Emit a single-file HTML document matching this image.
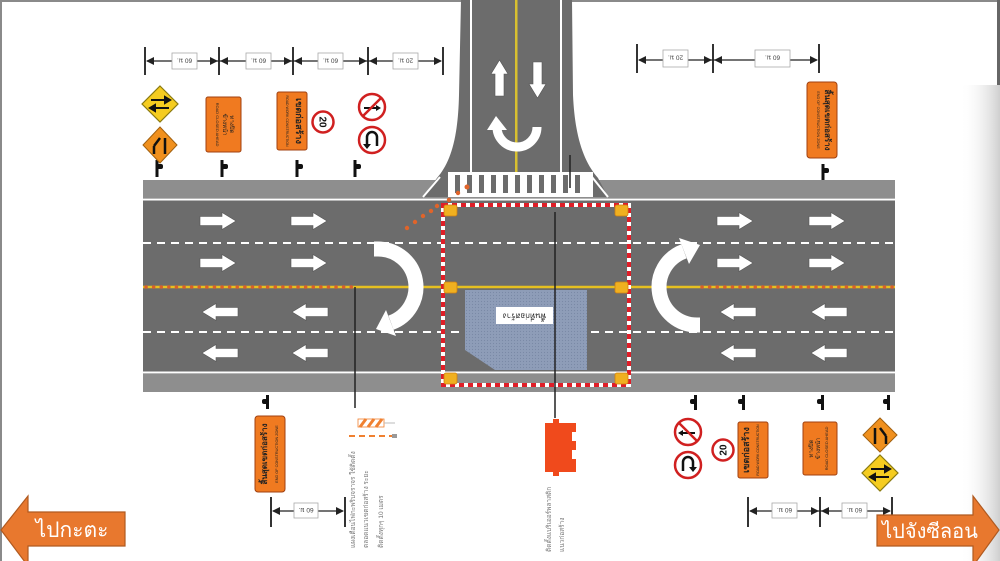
<!DOCTYPE html>
<html><head><meta charset="utf-8"><style>
html,body{margin:0;padding:0;background:#fff;}
svg{display:block;}
text{font-family:"Liberation Sans","DejaVu Sans","Noto Sans CJK SC",sans-serif;}
</style></head><body>
<svg width="1000" height="561" viewBox="0 0 1000 561" xmlns="http://www.w3.org/2000/svg">
<defs>
<path id="ra" d="M0,-4.5 H22 V-8.5 L36,0 L22,8.5 V4.5 H0 Z" fill="#fff" stroke="#555" stroke-width="0.6"/>
<linearGradient id="sh" x1="0" x2="1" y1="0" y2="0"><stop offset="0" stop-color="#fff" stop-opacity="0"/><stop offset="1" stop-color="#cfcfcf"/></linearGradient>
<pattern id="dots" width="3" height="3" patternUnits="userSpaceOnUse"><rect width="3" height="3" fill="#8e9db8"/><circle cx="1.5" cy="1.5" r="0.6" fill="#7a8aa6"/></pattern>
</defs>
<rect width="1000" height="561" fill="#fff"/>
<rect x="960" y="85" width="40" height="476" fill="url(#sh)"/>
<rect x="0" y="0" width="1000" height="2" fill="#8a8a8a"/>
<rect x="0" y="0" width="2" height="561" fill="#8a8a8a"/>
<rect x="997" y="0" width="3" height="85" fill="#666"/>

<!-- main road -->
<rect x="143" y="180" width="752" height="18" fill="#8e8e8e"/>
<rect x="143" y="198" width="752" height="176" fill="#6c6c6c"/>
<rect x="143" y="374" width="752" height="18" fill="#8e8e8e"/>
<rect x="143" y="198.5" width="752" height="2" fill="#fff"/>
<rect x="143" y="371.5" width="752" height="2" fill="#fff"/>
<line x1="143" y1="243" x2="895" y2="243" stroke="#fff" stroke-width="2" stroke-dasharray="8 6"/>
<line x1="143" y1="332" x2="895" y2="332" stroke="#fff" stroke-width="2" stroke-dasharray="8 6"/>
<line x1="143" y1="287" x2="895" y2="287" stroke="#e6c020" stroke-width="2.5"/>
<line x1="146" y1="287" x2="355" y2="287" stroke="#d9602a" stroke-width="3.5" stroke-linecap="round" stroke-dasharray="0.1 7.5"/>
<line x1="702" y1="287" x2="893" y2="287" stroke="#d9602a" stroke-width="3.5" stroke-linecap="round" stroke-dasharray="0.1 7.5"/>

<!-- vertical road -->
<path d="M461,0 L572,0 L573,95 C575,140 585,163 598,178 L608,197 L423,197 L437,178 C450,163 458,140 459,95 Z" fill="#6c6c6c"/>
<path d="M423,197 L440,177" stroke="#fff" stroke-width="2" fill="none"/>
<path d="M608,197 L592,177" stroke="#fff" stroke-width="2" fill="none"/>
<rect x="470" y="0" width="2" height="172" fill="#fff"/>
<rect x="560" y="0" width="2" height="172" fill="#fff"/>
<rect x="515" y="0" width="2.5" height="172" fill="#d8c030"/>
<rect x="448" y="172" width="145" height="25" fill="#fff"/>
<g fill="#6c6c6c">
<rect x="455" y="175" width="5" height="18"/><rect x="467" y="175" width="5" height="18"/><rect x="479" y="175" width="5" height="18"/><rect x="491" y="175" width="5" height="18"/><rect x="503" y="175" width="5" height="18"/><rect x="515" y="175" width="5" height="18"/><rect x="527" y="175" width="5" height="18"/><rect x="539" y="175" width="5" height="18"/><rect x="551" y="175" width="5" height="18"/><rect x="563" y="175" width="5" height="18"/><rect x="575" y="175" width="5" height="18"/>
</g>
<use href="#ra" transform="translate(499.5,96) rotate(-90)"/>
<use href="#ra" transform="translate(537.5,62) rotate(90)"/>
<path d="M537,127 A20,20 0 0 1 497,127" fill="none" stroke="#fff" stroke-width="9"/>
<path d="M487,130 L507,130 L496,116 Z" fill="#fff"/>
<line x1="570" y1="155" x2="570" y2="188" stroke="#222" stroke-width="1.5"/>

<!-- lane arrows -->
<use href="#ra" transform="translate(200,221)"/><use href="#ra" transform="translate(291,221)"/>
<use href="#ra" transform="translate(200,263)"/><use href="#ra" transform="translate(291,263)"/>
<use href="#ra" transform="translate(717,221)"/><use href="#ra" transform="translate(809,221)"/>
<use href="#ra" transform="translate(717,263)"/><use href="#ra" transform="translate(809,263)"/>
<use href="#ra" transform="translate(238,312) scale(-1,1)"/><use href="#ra" transform="translate(328,312) scale(-1,1)"/>
<use href="#ra" transform="translate(238,353) scale(-1,1)"/><use href="#ra" transform="translate(328,353) scale(-1,1)"/>
<use href="#ra" transform="translate(756,312) scale(-1,1)"/><use href="#ra" transform="translate(847,312) scale(-1,1)"/>
<use href="#ra" transform="translate(756,353) scale(-1,1)"/><use href="#ra" transform="translate(847,353) scale(-1,1)"/>

<!-- U-turns -->
<path d="M374,249 L378,249 A38,38 0 0 1 391,322.7" fill="none" stroke="#fff" stroke-width="15"/>
<path d="M376,329 L396,336 L386,310 Z" fill="#fff"/>
<path d="M700,325 L697,325 A38,38 0 0 1 684,251.3" fill="none" stroke="#fff" stroke-width="15"/>
<path d="M700,245 L679,238 L689,264 Z" fill="#fff"/>

<!-- work zone -->
<polygon points="465,290 587,290 587,370 495,370 465,350" fill="url(#dots)"/>
<rect x="496" y="307" width="57" height="17" fill="#fff"/>
<text x="524.5" y="315.5" font-size="8" fill="#222" text-anchor="middle" dominant-baseline="middle" transform="rotate(180 524.5 315.5)">พื้นที่ก่อสร้าง</text>
<rect x="443" y="205" width="186" height="180" fill="none" stroke="#fff" stroke-width="4"/>
<rect x="443" y="205" width="186" height="180" fill="none" stroke="#e01e28" stroke-width="4" stroke-dasharray="5 4"/>
<g fill="#f0b020" stroke="#d08010" stroke-width="0.8">
<rect x="444" y="205" width="13" height="11" rx="2"/><rect x="615" y="205" width="13" height="11" rx="2"/>
<rect x="444" y="282" width="13" height="11" rx="2"/><rect x="615" y="282" width="13" height="11" rx="2"/>
<rect x="444" y="373" width="13" height="11" rx="2"/><rect x="615" y="373" width="13" height="11" rx="2"/>
</g>
<g fill="#e0642a">
<circle cx="407" cy="228" r="2.2"/><circle cx="415" cy="222" r="2.2"/><circle cx="423" cy="216" r="2.2"/><circle cx="431" cy="211" r="2.2"/><circle cx="437" cy="206" r="2.2"/>
<circle cx="449" cy="200" r="2.2"/><circle cx="458" cy="193" r="2.2"/><circle cx="467" cy="187" r="2.5"/>
</g>
<line x1="355" y1="287" x2="355" y2="408" stroke="#222" stroke-width="1.5"/>
<line x1="555" y1="212" x2="555" y2="418" stroke="#222" stroke-width="1.5"/>

<!-- dimension lines top-left -->
<g stroke="#333" stroke-width="2">
<line x1="145" y1="47" x2="145" y2="75"/><line x1="219" y1="47" x2="219" y2="75"/><line x1="293" y1="47" x2="293" y2="75"/><line x1="368" y1="47" x2="368" y2="75"/><line x1="443" y1="47" x2="443" y2="75"/>
<line x1="637" y1="44" x2="637" y2="73"/><line x1="713" y1="44" x2="713" y2="73"/><line x1="819" y1="44" x2="819" y2="73"/>
<line x1="271" y1="497" x2="271" y2="527"/><line x1="345" y1="497" x2="345" y2="527"/>
<line x1="748" y1="497" x2="748" y2="527"/><line x1="820" y1="497" x2="820" y2="527"/><line x1="892" y1="497" x2="892" y2="527"/>
</g>
<g stroke="#222" stroke-width="1.3">
<line x1="147" y1="61" x2="441" y2="61"/><line x1="639" y1="60" x2="817" y2="60"/>
<line x1="273" y1="511" x2="343" y2="511"/><line x1="750" y1="511" x2="890" y2="511"/>
</g>
<g fill="#222">
<path d="M146,61 l8,-4 v8z"/><path d="M218,61 l-8,-4 v8z"/><path d="M220,61 l8,-4 v8z"/><path d="M292,61 l-8,-4 v8z"/><path d="M294,61 l8,-4 v8z"/><path d="M367,61 l-8,-4 v8z"/><path d="M369,61 l8,-4 v8z"/><path d="M442,61 l-8,-4 v8z"/>
<path d="M638,60 l8,-4 v8z"/><path d="M712,60 l-8,-4 v8z"/><path d="M714,60 l8,-4 v8z"/><path d="M818,60 l-8,-4 v8z"/>
<path d="M272,511 l8,-4 v8z"/><path d="M344,511 l-8,-4 v8z"/>
<path d="M749,511 l8,-4 v8z"/><path d="M819,511 l-8,-4 v8z"/><path d="M821,511 l8,-4 v8z"/><path d="M891,511 l-8,-4 v8z"/>
</g>
<g fill="#fff" stroke="#aaa" stroke-width="0.8">
<rect x="172" y="53" width="25" height="16"/><rect x="246" y="53" width="25" height="16"/><rect x="318" y="53" width="25" height="16"/><rect x="393" y="53" width="25" height="16"/>
<rect x="663" y="50" width="25" height="17"/><rect x="755" y="50" width="35" height="17"/>
<rect x="294" y="503" width="24" height="15"/><rect x="772" y="503" width="25" height="15"/><rect x="842" y="503" width="25" height="15"/>
</g>
<g font-size="6.5" fill="#444" text-anchor="middle">
<text x="184.5" y="63.5" transform="rotate(180 184.5 61)">60 ม.</text>
<text x="258.5" y="63.5" transform="rotate(180 258.5 61)">60 ม.</text>
<text x="330.5" y="63.5" transform="rotate(180 330.5 61)">60 ม.</text>
<text x="405.5" y="63.5" transform="rotate(180 405.5 61)">20 ม.</text>
<text x="675.5" y="60.5" transform="rotate(180 675.5 58)">20 ม.</text>
<text x="772.5" y="60.5" transform="rotate(180 772.5 58)">60 ม.</text>
<text x="306" y="513" transform="rotate(180 306 510.5)">60 ม.</text>
<text x="784.5" y="513" transform="rotate(180 784.5 510.5)">60 ม.</text>
<text x="854.5" y="513" transform="rotate(180 854.5 510.5)">60 ม.</text>
</g>

<!-- posts -->
<g fill="#111">
<rect x="155.5" y="160" width="3" height="17"/><rect x="157" y="164" width="6" height="5" rx="2"/>
<rect x="220.5" y="160" width="3" height="17"/><rect x="222" y="164" width="6" height="5" rx="2"/>
<rect x="295.5" y="160" width="3" height="17"/><rect x="297" y="164" width="6" height="5" rx="2"/>
<rect x="353.5" y="160" width="3" height="17"/><rect x="355" y="164" width="6" height="5" rx="2"/>
<rect x="821.5" y="164" width="3" height="16"/><rect x="823" y="168" width="6" height="5" rx="2"/>
<rect x="266" y="395" width="3" height="14"/><rect x="262" y="399" width="6" height="5" rx="2"/>
<rect x="694" y="395" width="3" height="15"/><rect x="690" y="399" width="6" height="5" rx="2"/>
<rect x="742" y="395" width="3" height="15"/><rect x="738" y="399" width="6" height="5" rx="2"/>
<rect x="821" y="395" width="3" height="15"/><rect x="817" y="399" width="6" height="5" rx="2"/>
<rect x="887" y="395" width="3" height="15"/><rect x="883" y="399" width="6" height="5" rx="2"/>
</g>

<!-- top-left signs -->
<polygon points="160,86 178,104 160,122 142,104" fill="#f5cc20" stroke="#8a7a10" stroke-width="1.2"/>
<g stroke="#111" stroke-width="2" fill="#111"><line x1="151" y1="100" x2="166" y2="100"/><path d="M170,100 l-5,-3 v6z"/><line x1="154" y1="108" x2="169" y2="108"/><path d="M150,108 l5,-3 v6z"/></g>
<polygon points="160,127 177,145 160,163 143,145" fill="#f0901e" stroke="#a06010" stroke-width="1"/>
<g stroke="#111" stroke-width="2.5"><line x1="154" y1="154" x2="154" y2="146"/><line x1="154" y1="146" x2="160" y2="138"/><line x1="165" y1="154" x2="165" y2="138"/></g>
<rect x="206" y="97" width="35" height="55" rx="2" fill="#f07a20" stroke="#a04010" stroke-width="1"/>
<g font-size="6" fill="#222" text-anchor="middle">
<text x="0" y="0" transform="translate(230,124.5) rotate(90)">ทางปิด</text>
<text x="0" y="0" transform="translate(223,124.5) rotate(90)">ข้างหน้า</text>
<text x="0" y="0" font-size="4" transform="translate(216,124.5) rotate(90)">ROAD CLOSED AHEAD</text>
</g>
<rect x="277" y="92" width="30" height="58" rx="2" fill="#f07a20" stroke="#a04010" stroke-width="1"/>
<text x="0" y="0" font-size="9" font-weight="bold" fill="#222" text-anchor="middle" transform="translate(296,121) rotate(90)">เขตก่อสร้าง</text>
<text x="0" y="0" font-size="3.5" fill="#222" text-anchor="middle" transform="translate(286,121) rotate(90)">ROAD WORK CONSTRUCTION</text>
<circle cx="323" cy="122" r="10.5" fill="#fff" stroke="#d02020" stroke-width="2.5"/>
<text x="0" y="0" font-size="10" font-weight="bold" fill="#111" text-anchor="middle" transform="translate(319.5,122) rotate(90)">20</text>
<circle cx="372" cy="107" r="13" fill="#fff" stroke="#d02020" stroke-width="2.5"/>
<g stroke="#111" stroke-width="2"><line x1="364" y1="108" x2="378" y2="108"/></g><path d="M381,108 l-5,-3 v6z" fill="#111"/>
<line x1="363" y1="116" x2="381" y2="98" stroke="#d02020" stroke-width="2.5"/>
<circle cx="372" cy="140" r="13" fill="#fff" stroke="#d02020" stroke-width="2.5"/>
<path d="M377,146 V137 A5,5 0 0 0 367,137 V145" fill="none" stroke="#111" stroke-width="2.5"/>
<path d="M363,144 L371,144 L367,149 Z" fill="#111"/>

<!-- top-right sign -->
<rect x="807" y="82" width="30" height="76" rx="3" fill="#f07a20" stroke="#a04010" stroke-width="1"/>
<text x="0" y="0" font-size="8" font-weight="bold" fill="#222" text-anchor="middle" transform="translate(825,120) rotate(90)">สิ้นสุดเขตก่อสร้าง</text>
<text x="0" y="0" font-size="3.8" fill="#222" text-anchor="middle" transform="translate(817,120) rotate(90)">END OF CONSTRUCTION ZONE</text>

<!-- bottom-left sign -->
<rect x="255" y="416" width="30" height="76" rx="3" fill="#f07a20" stroke="#a04010" stroke-width="1"/>
<text x="0" y="0" font-size="8" font-weight="bold" fill="#222" text-anchor="middle" transform="translate(267,454) rotate(-90)">สิ้นสุดเขตก่อสร้าง</text>
<text x="0" y="0" font-size="3.8" fill="#222" text-anchor="middle" transform="translate(278,454) rotate(-90)">END OF CONSTRUCTION ZONE</text>

<!-- barrier icons -->
<rect x="358" y="419" width="26" height="8" fill="#fff" stroke="#f08030" stroke-width="0.8"/>
<g stroke="#f08030" stroke-width="3"><line x1="360" y1="427" x2="366" y2="419"/><line x1="368" y1="427" x2="374" y2="419"/><line x1="376" y1="427" x2="382" y2="419"/></g>
<line x1="384" y1="423" x2="395" y2="423" stroke="#bbb" stroke-width="1"/>
<line x1="349" y1="436" x2="393" y2="436" stroke="#f08030" stroke-width="2" stroke-dasharray="6 4"/>
<rect x="392" y="434" width="5" height="4" fill="#999"/>
<g font-size="6.5" fill="#777">
<text x="0" y="0" transform="translate(355,548) rotate(-90)">แผงเตือนไฟกะพริบจราจร ใช้ติดตั้ง</text>
<text x="0" y="0" transform="translate(368,548) rotate(-90)">ตลอดแนวเขตก่อสร้าง ระยะ</text>
<text x="0" y="0" transform="translate(383,548) rotate(-90)">ติดตั้งทุกๆ 10 เมตร</text>
</g>

<!-- red water barrier -->
<path d="M545,423 H576 V432 H572 V441 H576 V450 H572 V459 H576 V472 H545 Z" fill="#f04a1c"/>
<rect x="553" y="419" width="6" height="5" fill="#f04a1c"/><rect x="553" y="471" width="6" height="5" fill="#f04a1c"/>
<g font-size="6.5" fill="#777">
<text x="0" y="0" transform="translate(551,552) rotate(-90)">ติดตั้งแบริเออร์พลาสติก</text>
<text x="0" y="0" transform="translate(564,552) rotate(-90)">แนวก่อสร้าง</text>
</g>

<!-- bottom-right signs -->
<circle cx="688" cy="432" r="13" fill="#fff" stroke="#d02020" stroke-width="2.5"/>
<line x1="681" y1="433" x2="695" y2="433" stroke="#111" stroke-width="2"/><path d="M678,433 l5,-3 v6z" fill="#111"/>
<line x1="679" y1="423" x2="697" y2="441" stroke="#d02020" stroke-width="2.5"/>
<circle cx="688" cy="465" r="13" fill="#fff" stroke="#d02020" stroke-width="2.5"/>
<path d="M683,471 V462 A5,5 0 0 1 693,462 V468" fill="none" stroke="#111" stroke-width="2.5"/>
<path d="M689,467 L697,467 L693,472 Z" fill="#111"/>
<circle cx="723" cy="450" r="10.5" fill="#fff" stroke="#d02020" stroke-width="2.5"/>
<text x="0" y="0" font-size="10" font-weight="bold" fill="#111" text-anchor="middle" transform="translate(726.5,450) rotate(-90)">20</text>
<rect x="738" y="422" width="30" height="56" rx="2" fill="#f07a20" stroke="#a04010" stroke-width="1"/>
<text x="0" y="0" font-size="9" font-weight="bold" fill="#222" text-anchor="middle" transform="translate(749,450) rotate(-90)">เขตก่อสร้าง</text>
<text x="0" y="0" font-size="3.5" fill="#222" text-anchor="middle" transform="translate(759,450) rotate(-90)">ROAD WORK CONSTRUCTION</text>
<rect x="803" y="422" width="34" height="53" rx="2" fill="#f07a20" stroke="#a04010" stroke-width="1"/>
<g font-size="6" fill="#222" text-anchor="middle">
<text x="0" y="0" transform="translate(813,448.5) rotate(-90)">ทางปิด</text>
<text x="0" y="0" transform="translate(820,448.5) rotate(-90)">ข้างหน้า</text>
<text x="0" y="0" font-size="4" transform="translate(828,448.5) rotate(-90)">ROAD CLOSED AHEAD</text>
</g>
<polygon points="880,418 897,435 880,452 863,435" fill="#f0901e" stroke="#a06010" stroke-width="1"/>
<g stroke="#111" stroke-width="2.5"><line x1="875" y1="444" x2="875" y2="428"/><line x1="886" y1="444" x2="886" y2="436"/><line x1="886" y1="436" x2="880" y2="428"/></g>
<polygon points="880,455 898,473 880,491 862,473" fill="#f5cc20" stroke="#8a7a10" stroke-width="1.2"/>
<g stroke="#111" stroke-width="2" fill="#111"><line x1="871" y1="469" x2="886" y2="469"/><path d="M890,469 l-5,-3 v6z"/><line x1="874" y1="477" x2="889" y2="477"/><path d="M870,477 l5,-3 v6z"/></g>

<!-- direction arrows -->
<polygon points="1,530 28,496 28,512 125,512 125,546 28,546 28,566" fill="#e8782e" stroke="#b05a20" stroke-width="1.2"/>
<text x="72" y="537" font-size="21" fill="#fff" text-anchor="middle">ไปกะตะ</text>
<polygon points="999,530 973,496 973,515 877,515 877,546 973,546 973,566" fill="#e8782e" stroke="#b05a20" stroke-width="1.2"/>
<text x="930" y="538" font-size="20" fill="#fff" text-anchor="middle">ไปจังซีลอน</text>
</svg>
</body></html>
